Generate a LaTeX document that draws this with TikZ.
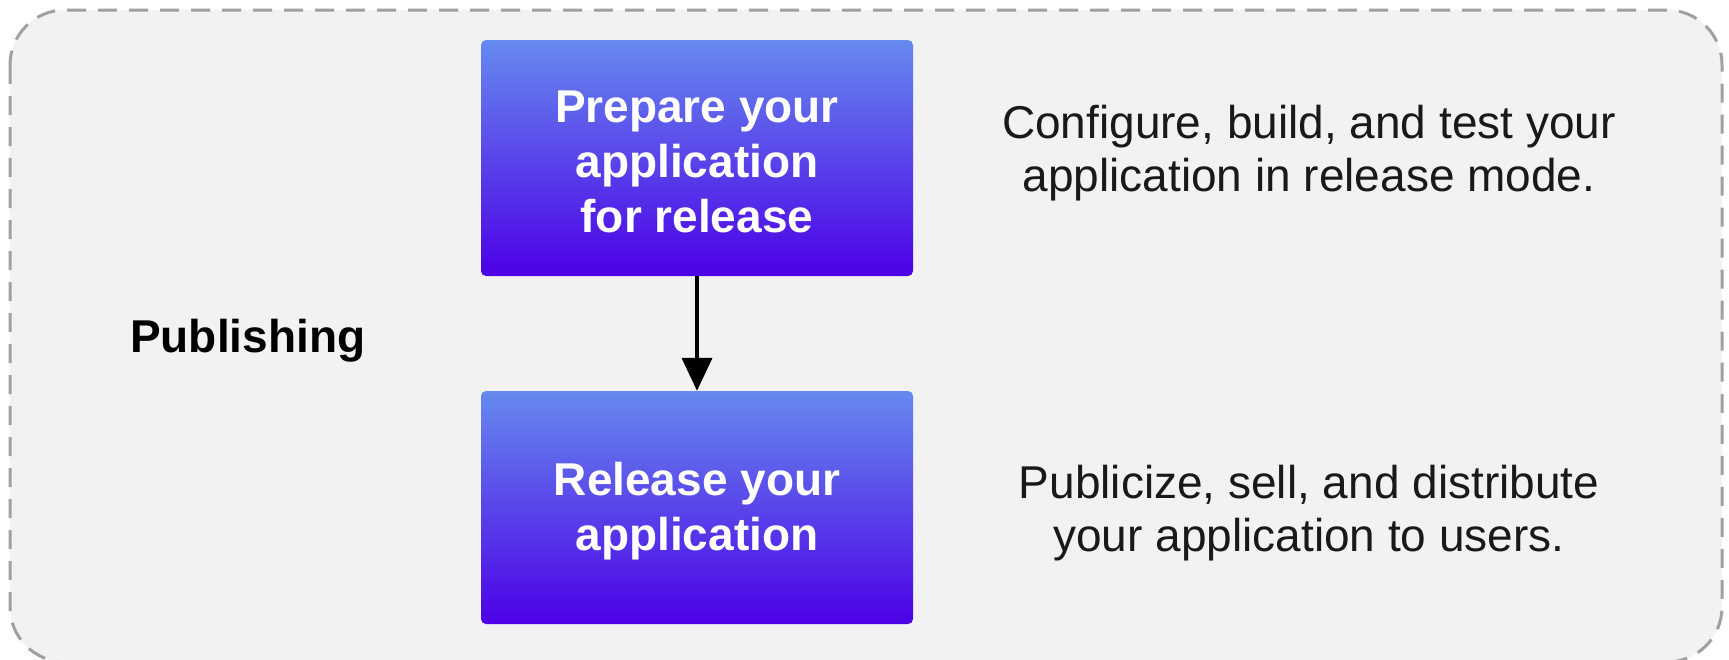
\documentclass[tikz,border=0pt]{standalone}
\usepackage{fontspec}
\setmainfont{Liberation Sans}
\usetikzlibrary{arrows.meta}
\definecolor{bgfill}{RGB}{242,242,242}
\definecolor{dashgray}{RGB}{160,160,160}
\definecolor{boxtop}{RGB}{102,138,238}
\definecolor{boxbot}{RGB}{76,0,230}
\tikzset{
  container/.style={draw=dashgray, line width=3pt, dash pattern=on 19pt off 12pt, fill=bgfill, rounded corners=55pt},
  stepbox/.style={draw=none, top color=boxtop, bottom color=boxbot, rounded corners=5pt,
    minimum width=432pt, inner sep=0pt},
  boxtext/.style={inner sep=0pt, align=center, text=white,
    font=\fontsize{46}{55}\selectfont\bfseries},
  desc/.style={align=center, inner sep=0pt, text=black!90, font=\fontsize{46}{53}\selectfont},
  flow/.style={-{Triangle[width=30pt,length=33pt]}, line width=4pt, black}
}
\begin{document}
\begin{tikzpicture}[x=1pt,y=-1pt]
\useasboundingbox (0,0) rectangle (1729,659);
\fill[white] (0,0) rectangle (1729,659);
\path[container] (10,10) rectangle (1722,662);
\node[stepbox, minimum height=236pt] (prep) at (697,158) {};
\node[boxtext] (prept) at ([yshift=-3.5pt]prep.center) {Prepare your\\application\\for release};
\node[stepbox, minimum height=233pt] (rel) at (697,507.5) {};
\node[boxtext] (relt) at ([yshift=-4pt]rel.center) {Release your\\application};
\draw[flow] (prep) -- (rel);
\node[anchor=base west, inner sep=0pt, font=\fontsize{46}{55}\selectfont\bfseries] (pub) at (130,352) {Publishing};
\node[desc, anchor=base] (d1) at (1309,191.5) {Configure, build, and test your\\application in release mode.};
\node[desc, anchor=base] (d2) at (1309,551) {Publicize, sell, and distribute\\your application to users.};
\end{tikzpicture}
\end{document}
